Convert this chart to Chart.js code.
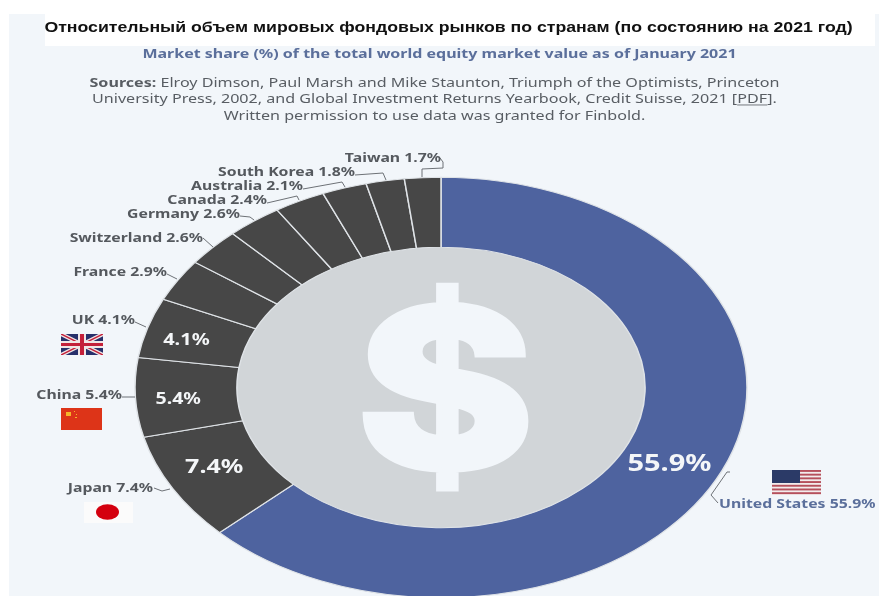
<!DOCTYPE html>
<html>
<head>
<meta charset="utf-8">
<title>Market share</title>
<script src="https://cdn.jsdelivr.net/npm/chart.js@4"></script>
<style>
    html, body { margin: 0; padding: 0; background: #ffffff; }
    .page { position: relative; width: 879px; height: 596px; overflow: hidden; }
    .panel { position: absolute; left: 9px; top: 14px; width: 870px; height: 582px; background: #f2f6fa; }
    .title_box { position: absolute; left: 45px; top: 14px; width: 830px; height: 32px; background: #ffffff; }
    canvas { position: absolute; left: 0; top: 0; }
    .line { position: absolute; left: 0; width: 879px; height: 20px; line-height: 20px; text-align: center; white-space: nowrap; transform: scaleY(0.82); }
    .title { top: 17px; left: 9px; font: bold 17.7px/20px "Liberation Sans", Arial, sans-serif; color: #111111; }
    .subtitle { top: 43px; font: bold 16px/20px "Noto Sans", sans-serif; color: #5b6f9b; }
    .source { left: -5px; font: 16.1px/20px "Noto Sans", sans-serif; color: #585d63; }
    .source u { text-underline-offset: 2px; }
</style>
</head>
<body>
<div class="page">
    <div class="panel"></div>
    <div class="title_box"></div>
    <canvas id="myChart" width="879" height="596"></canvas>
    <div class="line title">Относительный объем мировых фондовых рынков по странам (по состоянию на 2021 год)</div>
    <div class="line subtitle">Market share (%) of the total world equity market value as of January 2021</div>
    <div class="line source" style="top:72px"><b>Sources:</b> Elroy Dimson, Paul Marsh and Mike Staunton, Triumph of the Optimists, Princeton</div>
    <div class="line source" style="top:88px">University Press, 2002, and Global Investment Returns Yearbook, Credit Suisse, 2021 [<u>PDF</u>].</div>
    <div class="line source" style="top:105px">Written permission to use data was granted for Finbold.</div>
</div>

<script>
const countries = ["United States", "Japan", "China", "UK", "France", "Switzerland", "Germany", "Canada", "Australia", "South Korea", "Taiwan"];
const shares = [55.9, 7.4, 5.4, 4.1, 2.9, 2.6, 2.6, 2.4, 2.1, 1.8, 1.7];
const sliceColors = ["#4e639f", "#474747", "#474747", "#474747", "#474747", "#474747", "#474747", "#474747", "#474747", "#474747", "#474747"];

// the picture is squashed, so the ring is an ellipse
const squash = 0.687;
const centerX = 441;
const centerY = 387.5;

// outside labels: end of the text, then the leader line points up to the slice
const outsideLabels = [
    { text: [719, 504], color: "#5b6f9b", align: "left", line: [[718, 503], [711, 495], [727, 472], [730, 472]] },
    { text: [153, 488], line: [[154, 488], [162, 491], [170, 489]] },
    { text: [122, 395], line: [[122, 397], [135, 397]] },
    { text: [135, 320], line: [[135, 322], [146, 327]] },
    { text: [167, 272], line: [[167, 274], [177, 279]] },
    { text: [203, 238], line: [[203, 238], [213, 247]] },
    { text: [240, 214], line: [[240, 216], [250, 217], [254, 220]] },
    { text: [267, 200], line: [[267, 203], [297, 196], [299, 200]] },
    { text: [303, 186], line: [[303, 189], [342, 182], [345, 187]] },
    { text: [355, 172], line: [[355, 175], [383, 173], [386, 180]] },
    { text: [441, 158], line: [[440, 158], [443, 162], [443, 168], [422, 169], [422, 177]] }
];

// percent written inside the four biggest slices
const insideLabels = [
    { index: 0, size: 29, dx: -6, dy: 8 },
    { index: 1, size: 25, dx: -3, dy: -4 },
    { index: 2, size: 19.5, dx: -8, dy: 4 },
    { index: 3, size: 20, dx: -10, dy: 3 }
];

function squashed(ctx, chart) {
    const midX = (chart.chartArea.left + chart.chartArea.right) / 2;
    const midY = (chart.chartArea.top + chart.chartArea.bottom) / 2;
    ctx.translate(centerX, centerY);
    ctx.scale(1, squash);
    ctx.translate(-midX, -midY);
}

function wideText(ctx, text, x, y, size, color, align) {
    ctx.save();
    ctx.translate(x, y);
    ctx.scale(1, 0.8);
    ctx.font = "bold " + size + "px 'Noto Sans', sans-serif";
    ctx.textAlign = align;
    ctx.textBaseline = "middle";
    ctx.fillStyle = color;
    ctx.fillText(text, 0, 0);
    ctx.restore();
}

function drawFlags(ctx) {
    // UK
    ctx.save();
    ctx.beginPath();
    ctx.rect(61, 334, 42, 21);
    ctx.clip();
    ctx.fillStyle = "#27306b";
    ctx.fillRect(61, 334, 42, 21);
    ctx.strokeStyle = "#f0e6e6";
    ctx.lineWidth = 4;
    ctx.beginPath();
    ctx.moveTo(61, 334); ctx.lineTo(103, 355);
    ctx.moveTo(103, 334); ctx.lineTo(61, 355);
    ctx.stroke();
    ctx.strokeStyle = "#c4203a";
    ctx.lineWidth = 1.5;
    ctx.stroke();
    ctx.fillStyle = "#f0e6e6";
    ctx.fillRect(61, 341, 42, 7);
    ctx.fillRect(78, 334, 8, 21);
    ctx.fillStyle = "#c4203a";
    ctx.fillRect(61, 343, 42, 3);
    ctx.fillRect(80, 334, 4, 21);
    ctx.restore();

    // China
    ctx.fillStyle = "#dd3418";
    ctx.fillRect(61, 408, 41, 22);
    ctx.fillStyle = "#f5b52a";
    ctx.fillRect(66, 412, 5, 4);
    ctx.fillRect(74, 411, 1, 1);
    ctx.fillRect(76, 414, 1, 1);
    ctx.fillRect(75, 417, 2, 1);

    // Japan
    ctx.fillStyle = "#fbfbfb";
    ctx.fillRect(84, 502, 49, 21);
    ctx.fillStyle = "#d4000f";
    ctx.beginPath();
    ctx.ellipse(107.5, 512, 11.5, 7.8, 0, 0, Math.PI * 2);
    ctx.fill();

    // US
    ctx.fillStyle = "#f3ecec";
    ctx.fillRect(772, 470, 49, 25);
    ctx.fillStyle = "#b5505c";
    for (let i = 0; i < 7; i++) {
        ctx.fillRect(772, 470 + i * 3.7, 49, 1.9);
    }
    ctx.fillStyle = "#2b3a67";
    ctx.fillRect(772, 470, 28, 13);
}

const ringPicture = {
    id: "ringPicture",
    beforeDatasetsDraw(chart) {
        const ctx = chart.ctx;
        const arc = chart.getDatasetMeta(0).data[0];
        ctx.save();
        squashed(ctx, chart);

        ctx.fillStyle = "#d1d5d8";
        ctx.beginPath();
        ctx.arc(arc.x, arc.y, arc.innerRadius + 1, 0, Math.PI * 2);
        ctx.fill();
        ctx.restore();

        // big dollar, fitted into its box, with a stroke to make it heavier
        ctx.save();
        ctx.font = "800 200px Inter, sans-serif";
        ctx.textAlign = "left";
        ctx.textBaseline = "alphabetic";
        const m = ctx.measureText("$");
        const glyphW = m.actualBoundingBoxLeft + m.actualBoundingBoxRight;
        const glyphH = m.actualBoundingBoxAscent + m.actualBoundingBoxDescent;
        ctx.translate(366, 285);
        ctx.scale(159 / glyphW, 205 / glyphH);
        ctx.fillStyle = "#f2f6fa";
        ctx.strokeStyle = "#f2f6fa";
        ctx.lineWidth = 5;
        ctx.lineJoin = "miter";
        ctx.fillText("$", m.actualBoundingBoxLeft, m.actualBoundingBoxAscent);
        ctx.strokeText("$", m.actualBoundingBoxLeft, m.actualBoundingBoxAscent);
        ctx.restore();

        ctx.save();
        squashed(ctx, chart);
    },
    afterDatasetsDraw(chart) {
        const ctx = chart.ctx;
        const midX = (chart.chartArea.left + chart.chartArea.right) / 2;
        const midY = (chart.chartArea.top + chart.chartArea.bottom) / 2;
        ctx.restore();

        insideLabels.forEach(l => {
            const p = chart.getDatasetMeta(0).data[l.index].tooltipPosition();
            const x = centerX + (p.x - midX);
            const y = centerY + (p.y - midY) * squash;
            wideText(ctx, shares[l.index] + "%", x + l.dx, y + l.dy, l.size, "#f4f6f8", "center");
        });

        outsideLabels.forEach((l, i) => {
            ctx.strokeStyle = "#6d7176";
            ctx.lineWidth = 1;
            ctx.beginPath();
            l.line.forEach((pt, n) => n ? ctx.lineTo(pt[0], pt[1]) : ctx.moveTo(pt[0], pt[1]));
            ctx.stroke();
            wideText(ctx, countries[i] + " " + shares[i] + "%", l.text[0], l.text[1], 15.8, l.color || "#55595e", l.align || "right");
        });

        drawFlags(ctx);
    }
};

const chart = new Chart(document.getElementById("myChart"), {
    type: "doughnut",
    data: {
        labels: countries,
        datasets: [{
            data: shares,
            backgroundColor: sliceColors,
            borderColor: "#dfe3e7",
            borderWidth: 1.5,
            borderAlign: "center",
            clip: false
        }]
    },
    options: {
        responsive: false,
        animation: false,
        radius: 306,
        cutout: "66.7%",
        plugins: { legend: { display: false }, title: { display: false }, tooltip: { enabled: false } }
    },
    plugins: [ringPicture]
});
</script>
</body>
</html>
